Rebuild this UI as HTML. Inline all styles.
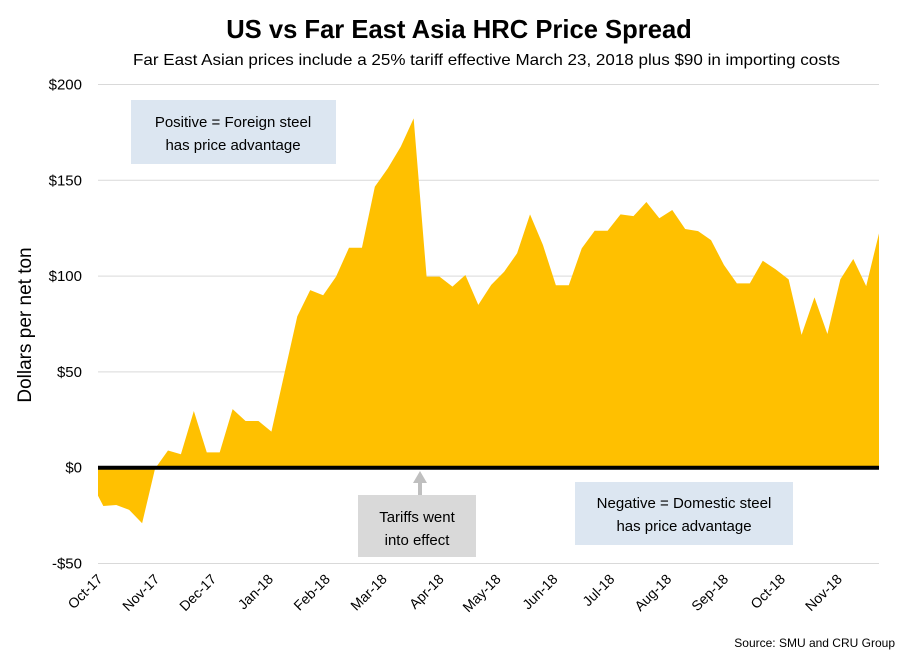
<!DOCTYPE html>
<html><head><meta charset="utf-8"><style>
body{margin:0;background:#fff;}
svg{display:block;font-family:"Liberation Sans",sans-serif;}
</style></head><body>
<svg id="chart" width="909" height="660">
<rect width="909" height="660" fill="#fff"/>
<text x="459" y="38" text-anchor="middle" font-size="25.6" font-weight="bold" fill="#000">US vs Far East Asia HRC Price Spread</text>
<text x="133" y="65" font-size="16" textLength="707" lengthAdjust="spacingAndGlyphs" fill="#000">Far East Asian prices include a 25% tariff effective March 23, 2018 plus $90 in importing costs</text>
<text transform="translate(31,325) rotate(-90)" text-anchor="middle" font-size="19" fill="#000">Dollars per net ton</text>
<defs><clipPath id="plotclip"><rect x="98" y="70" width="781" height="510"/></clipPath></defs>
<g id="grid"></g>
<g id="area" clip-path="url(#plotclip)"></g>
<g id="ylabels"></g>
<g id="xlabels"></g>
<rect x="131" y="100" width="205" height="64" fill="#dce6f1"/>
<text x="233" y="127" text-anchor="middle" font-size="15">Positive = Foreign steel</text>
<text x="233" y="150" text-anchor="middle" font-size="15">has price advantage</text>
<rect x="575" y="482" width="218" height="63" fill="#dce6f1"/>
<text x="684" y="508" text-anchor="middle" font-size="15">Negative = Domestic steel</text>
<text x="684" y="531" text-anchor="middle" font-size="15">has price advantage</text>
<line x1="420" y1="495" x2="420" y2="481" stroke="#bfbfbf" stroke-width="4"/>
<polygon points="413,483 427,483 420,471" fill="#bfbfbf"/>
<rect x="358" y="495" width="118" height="62" fill="#d9d9d9"/>
<text x="417" y="522" text-anchor="middle" font-size="15">Tariffs went</text>
<text x="417" y="545" text-anchor="middle" font-size="15">into effect</text>
<text x="895" y="647" text-anchor="end" font-size="12">Source: SMU and CRU Group</text>
</svg>
<script>
const values = [-7,-20,-19.5,-22,-29,-0.5,9,7,29.6,8,8,30.6,24.4,24.4,18.8,49,79,92.7,90,99.7,114.8,114.8,146.7,156.2,167.5,182.3,99.7,99.7,94.5,100.6,85,95.4,102.3,111.9,132.2,116.2,95.2,95.2,114.5,123.7,123.7,132.2,131.3,138.7,130.2,134.5,124.6,123.5,118.8,105.8,96.2,96.2,108,103.5,98.3,69.3,88.9,69.8,98.3,108.9,94.8,122.6];
const yTicks = [200,150,100,50,0,-50];
const yTickLabels = ["$200","$150","$100","$50","$0","-$50"];
const monthLabels = ["Oct-17","Nov-17","Dec-17","Jan-18","Feb-18","Mar-18","Apr-18","May-18","Jun-18","Jul-18","Aug-18","Sep-18","Oct-18","Nov-18"];
const monthIndex = [1,5.4,9.8,14.2,18.6,23,27.4,31.8,36.2,40.6,45,49.4,53.8,58.2];

const NS="http://www.w3.org/2000/svg";
function xS(i){return 90.4+12.93*i;}
function yS(v){return 467.7-v*1.916;}
function mk(t,a,p){const e=document.createElementNS(NS,t);for(const k in a)e.setAttribute(k,a[k]);p.appendChild(e);return e;}
const grid=document.getElementById('grid'),area=document.getElementById('area'),yl=document.getElementById('ylabels'),xl=document.getElementById('xlabels');
yTicks.forEach((v,k)=>{
  if(v!==0){const g=mk('line',{x1:98,x2:879,y1:yS(v),y2:yS(v),stroke:'#d9d9d9','stroke-width':1},grid);
  
  }
  const t=mk('text',{x:82,y:yS(v)+5,'text-anchor':'end','font-size':15},yl);
  t.textContent=yTickLabels[k];
  
  
});
let d='M'+xS(0)+','+yS(0);
values.forEach((v,i)=>{d+=' L'+xS(i)+','+yS(v);});
d+=' L'+xS(values.length-1)+','+yS(0)+' Z';
const p=mk('path',{d:d,fill:'#ffc000'},area);


const z=mk('line',{x1:98,x2:879,y1:yS(0),y2:yS(0),stroke:'#000','stroke-width':4},grid.parentNode);


monthLabels.forEach((m,k)=>{
  const x=xS(monthIndex[k]);
  const t=mk('text',{transform:'translate('+x+',580) rotate(-45)','text-anchor':'end','font-size':14},xl);
  t.textContent=m;
  
  
});
</script>
</body></html>
